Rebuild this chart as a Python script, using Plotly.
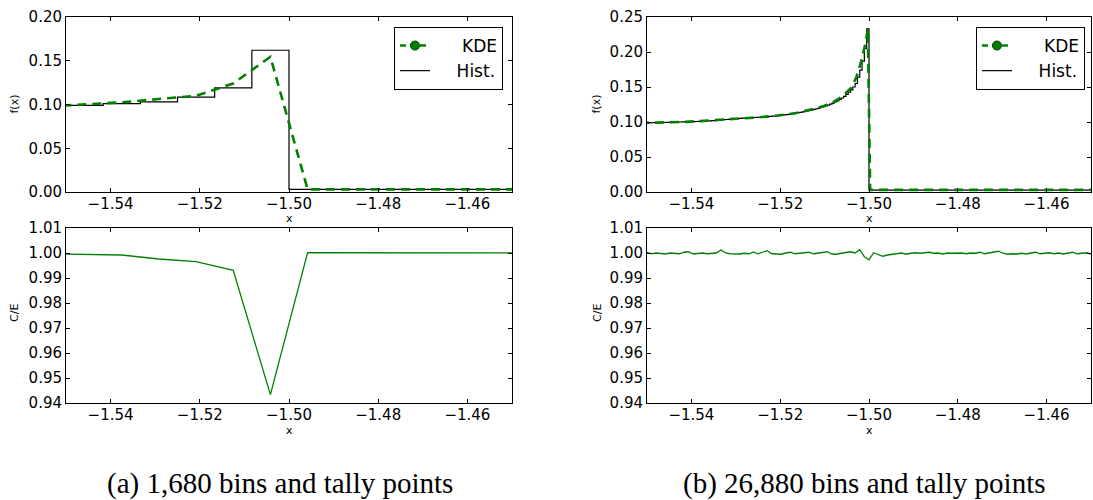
import numpy as np
import plotly.graph_objects as go

# ---------------- data ----------------
x_ticks = [-1.54, -1.52, -1.50, -1.48, -1.46]
x_ticktext = ["\u22121.54", "\u22121.52", "\u22121.50", "\u22121.48", "\u22121.46"]

# (a) 1,680 bins
hist_a_edges = [-1.55, -1.54167, -1.53333, -1.525, -1.51667, -1.50833, -1.5, -1.45]
hist_a_vals = [0.099, 0.101, 0.103, 0.1085, 0.119, 0.162, 0.003]

tally_a = [-1.55417, -1.54583, -1.5375, -1.52917, -1.52083, -1.5125, -1.50417,
           -1.49583, -1.4875, -1.47917, -1.47083, -1.4625, -1.45417, -1.44583]
kde_a = [0.0978, 0.0998, 0.1025, 0.1063, 0.1100, 0.1240, 0.1545,
         0.0030, 0.0030, 0.0030, 0.0030, 0.0030, 0.0030, 0.0030]
ce_a = [0.9997, 0.9993, 0.9992, 0.9976, 0.99653, 0.99307, 0.94333,
        1.00013, 1.0001, 1.0001, 1.0001, 1.0000, 1.0000, 1.0000]

# (b) 26,880 bins
hist_b_vals = [
    0.0987, 0.0988, 0.0989, 0.0990, 0.0990, 0.0991, 0.0992, 0.0993,
    0.0994, 0.0995, 0.0996, 0.0997, 0.0998, 0.0999, 0.1000, 0.1001,
    0.1002, 0.1003, 0.1004, 0.1005, 0.1006, 0.1007, 0.1008, 0.1009,
    0.1011, 0.1013, 0.1015, 0.1017, 0.1019, 0.1021, 0.1024, 0.1027,
    0.1030, 0.1033, 0.1036, 0.1038, 0.1040, 0.1043, 0.1046, 0.1049,
    0.1052, 0.1054, 0.1056, 0.1058, 0.1060, 0.1062, 0.1064, 0.1066,
    0.1068, 0.1070, 0.1072, 0.1074, 0.1077, 0.1080, 0.1083, 0.1086,
    0.1090, 0.1094, 0.1098, 0.1102, 0.1106, 0.1110, 0.1115, 0.1120,
    0.1126, 0.1132, 0.1138, 0.1144, 0.1150, 0.1157, 0.1164, 0.1172,
    0.1180, 0.1189, 0.1198, 0.1208, 0.1219, 0.1230, 0.1242, 0.1256,
    0.1270, 0.1286, 0.1303, 0.1322, 0.1343, 0.1367, 0.1394, 0.1425,
    0.1460, 0.1500, 0.1550, 0.1640, 0.1740, 0.1870, 0.2050, 0.2330,
    0.0028,
]
hist_b_edges = list(np.linspace(-1.55, -1.5, 97)) + [-1.45]

tally_b = [-1.5516, -1.54974, -1.54557, -1.54141, -1.53724, -1.53307, -1.52891,
           -1.52474, -1.52057, -1.51641, -1.51224, -1.51016, -1.50807, -1.50599,
           -1.50391, -1.50286, -1.50182, -1.50130, -1.50078, -1.50026, -1.49974,
           -1.44]
kde_b = [0.0985, 0.0987, 0.0994, 0.1002, 0.1016, 0.1032, 0.1053,
         0.1068, 0.1093, 0.1128, 0.1190, 0.1230, 0.1285, 0.1365,
         0.1495, 0.1640, 0.1850, 0.1986, 0.2129, 0.2330, 0.0030,
         0.0030]

ce_b_x = list(np.linspace(-1.55, -1.45, 97))
ce_b = [
    1.0003, 0.9997, 1.0000, 0.9999, 0.9996, 1.0000, 0.9999, 0.9997,
    1.0003, 1.0005, 0.9996, 0.9999, 1.0000, 0.9997, 0.9999, 1.0000,
    1.0012, 1.0000, 0.9997, 0.9996, 0.9996, 0.9999, 0.9997, 1.0004,
    0.9997, 1.0003, 1.0009, 0.9997, 0.9996, 0.9995, 1.0000, 1.0003,
    0.9997, 0.9999, 1.0001, 1.0003, 0.9997, 0.9999, 1.0000, 1.0005,
    0.9996, 0.9995, 0.9999, 1.0001, 1.0005, 1.0000, 1.0013, 0.9985,
    0.9973, 1.0001, 0.9993, 0.9987, 0.9992, 0.9996, 0.9997, 1.0000,
    0.9995, 0.9999, 1.0001, 0.9999, 1.0000, 1.0003, 0.9999, 1.0000,
    0.9996, 1.0000, 0.9999, 1.0001, 1.0000, 0.9997, 1.0000, 0.9999,
    1.0003, 0.9997, 1.0001, 1.0004, 1.0007, 0.9999, 0.9995, 0.9997,
    0.9996, 0.9999, 0.9996, 1.0000, 1.0003, 0.9997, 1.0000, 1.0001,
    0.9997, 1.0000, 0.9996, 1.0000, 1.0003, 0.9997, 1.0000, 1.0001,
    0.9996,
]

# ---------------- styling ----------------
W, H = 1093, 500
GREEN = "#008000"
TICKFONT = dict(family="DejaVu Sans", size=15, color="black")
NB = "\u00a0"


def px_x(p):
    return p / W


def px_y(p):
    return 1 - p / H


fig = go.Figure()

# top-left
fig.add_trace(go.Scatter(x=hist_a_edges, y=hist_a_vals + [hist_a_vals[-1]], mode="lines",
                         line=dict(color="black", width=1.2, shape="hv"),
                         xaxis="x", yaxis="y", showlegend=False))
fig.add_trace(go.Scatter(x=tally_a, y=kde_a, mode="lines",
                         line=dict(color=GREEN, width=2.6, dash="9px,6px"),
                         xaxis="x", yaxis="y", showlegend=False))
# legend entries (a)
fig.add_trace(go.Scatter(x=[None], y=[None], mode="lines+markers", name=NB * 5 + "KDE",
                         line=dict(color=GREEN, width=2.6, dash="6px,4px"),
                         marker=dict(color=GREEN, size=9, line=dict(color="#004000", width=1)),
                         xaxis="x", yaxis="y", legend="legend"))
fig.add_trace(go.Scatter(x=[None], y=[None], mode="lines", name=NB * 4 + "Hist.",
                         line=dict(color="black", width=1.2),
                         xaxis="x", yaxis="y", legend="legend"))

# top-right
fig.add_trace(go.Scatter(x=hist_b_edges, y=hist_b_vals + [hist_b_vals[-1]], mode="lines",
                         line=dict(color="black", width=1.2, shape="hv"),
                         xaxis="x2", yaxis="y2", showlegend=False))
fig.add_trace(go.Scatter(x=tally_b, y=kde_b, mode="lines",
                         line=dict(color=GREEN, width=2.6, dash="9px,6px"),
                         xaxis="x2", yaxis="y2", showlegend=False))
fig.add_trace(go.Scatter(x=[None], y=[None], mode="lines+markers", name=NB * 5 + "KDE",
                         line=dict(color=GREEN, width=2.6, dash="6px,4px"),
                         marker=dict(color=GREEN, size=9, line=dict(color="#004000", width=1)),
                         xaxis="x2", yaxis="y2", legend="legend2"))
fig.add_trace(go.Scatter(x=[None], y=[None], mode="lines", name=NB * 4 + "Hist.",
                         line=dict(color="black", width=1.2),
                         xaxis="x2", yaxis="y2", legend="legend2"))

# bottom-left
fig.add_trace(go.Scatter(x=tally_a, y=ce_a, mode="lines",
                         line=dict(color=GREEN, width=1.3),
                         xaxis="x3", yaxis="y3", showlegend=False))
# bottom-right
fig.add_trace(go.Scatter(x=ce_b_x, y=ce_b, mode="lines",
                         line=dict(color=GREEN, width=1.3),
                         xaxis="x4", yaxis="y4", showlegend=False))


def xaxis(dom, anchor):
    return dict(domain=dom, anchor=anchor, range=[-1.55, -1.45], automargin=False,
                tickvals=x_ticks, ticktext=x_ticktext, ticklabelstandoff=-2,
                showline=True, mirror="ticks", linecolor="black", linewidth=1,
                ticks="inside", ticklen=4, tickcolor="black", tickwidth=1,
                showgrid=False, zeroline=False, tickfont=TICKFONT)


def yaxis(dom, anchor, rng, vals):
    return dict(domain=dom, anchor=anchor, range=rng, automargin=False,
                tickvals=vals, ticktext=["%.2f" % v for v in vals],
                showline=True, mirror="ticks", linecolor="black", linewidth=1,
                ticks="inside", ticklen=4, tickcolor="black", tickwidth=1,
                showgrid=False, zeroline=False, tickfont=TICKFONT)


xl = [px_x(66), px_x(512)]
xr = [px_x(647), px_x(1091)]
yt = [px_y(192), px_y(17)]
yb = [px_y(403), px_y(228)]

top_a_ticks = [0.0, 0.05, 0.10, 0.15, 0.20]
top_b_ticks = [0.0, 0.05, 0.10, 0.15, 0.20, 0.25]
ce_ticks = [0.94, 0.95, 0.96, 0.97, 0.98, 0.99, 1.00, 1.01]

legend_common = dict(bordercolor="black", borderwidth=1, bgcolor="white",
                     font=dict(family="DejaVu Sans", size=17, color="black"),
                     xanchor="right", yanchor="top", itemwidth=30)

ann_font = dict(family="DejaVu Sans", size=11, color="black")
cap_font = dict(family="Liberation Serif", size=29, color="black")

annotations = [
    dict(text="f(x)", x=px_x(14), y=px_y(104.5), textangle=-90, font=ann_font),
    dict(text="f(x)", x=px_x(596), y=px_y(104.5), textangle=-90, font=ann_font),
    dict(text="x", x=px_x(289), y=px_y(219), font=ann_font),
    dict(text="x", x=px_x(869), y=px_y(219), font=ann_font),
    dict(text="C/E", x=px_x(14), y=px_y(313), textangle=-90, font=ann_font),
    dict(text="C/E", x=px_x(597), y=px_y(313), textangle=-90, font=ann_font),
    dict(text="x", x=px_x(289), y=px_y(430), font=ann_font),
    dict(text="x", x=px_x(869), y=px_y(430), font=ann_font),
    dict(text="(a) 1,680 bins and tally points", x=px_x(280), y=px_y(483), font=cap_font),
    dict(text="(b) 26,880 bins and tally points", x=px_x(864), y=px_y(483), font=cap_font),
]
for a in annotations:
    a.update(xref="paper", yref="paper", showarrow=False, xanchor="center", yanchor="middle")

fig.update_layout(
    template="none",
    width=W, height=H, autosize=False,
    margin=dict(l=0, r=0, t=0, b=0, pad=0),
    paper_bgcolor="white", plot_bgcolor="white",
    xaxis=xaxis(xl, "y"), yaxis=yaxis(yt, "x", [0, 0.2], top_a_ticks),
    xaxis2=xaxis(xr, "y2"), yaxis2=yaxis(yt, "x2", [0, 0.25], top_b_ticks),
    xaxis3=xaxis(xl, "y3"), yaxis3=yaxis(yb, "x3", [0.94, 1.01], ce_ticks),
    xaxis4=xaxis(xr, "y4"), yaxis4=yaxis(yb, "x4", [0.94, 1.01], ce_ticks),
    legend=dict(x=px_x(503), y=px_y(27), **legend_common),
    legend2=dict(x=px_x(1085), y=px_y(27), **legend_common),
    annotations=annotations,
)

fig.write_html(
    "out.html",
    config={"displayModeBar": False},
    post_script="document.body.style.margin='0';document.body.style.overflow='hidden';",
)
